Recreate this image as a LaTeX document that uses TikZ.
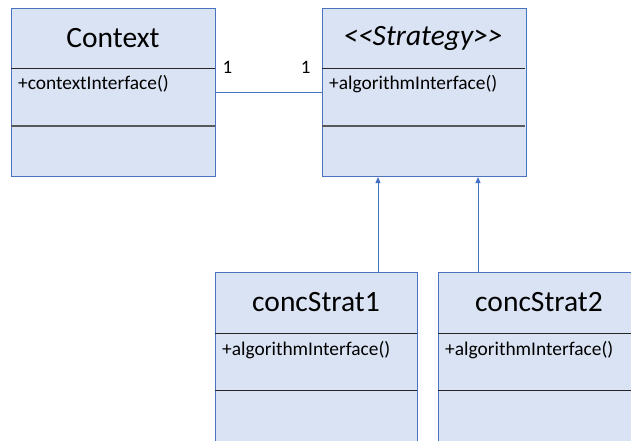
\documentclass[tikz,border=0pt]{standalone}
\usepackage{fontspec}
\setmainfont{Carlito}
\usetikzlibrary{arrows.meta, positioning}

\definecolor{boxfill}{HTML}{DAE3F3}
\definecolor{boxline}{HTML}{4A72BF}
\definecolor{linkblue}{HTML}{4472C4}

\tikzset{
  classbox/.style={draw=boxline, fill=boxfill, line width=1pt, rectangle,
    anchor=north west, minimum width=204pt, minimum height=168pt, inner sep=0pt},
  classname/.style={font=\fontsize{29.5}{31}\selectfont, inner sep=0pt},
  member/.style={font=\fontsize{19.4}{21}\selectfont, anchor=west, inner sep=0pt},
  divider/.style={draw=black!85, line width=1pt},
  link/.style={draw=linkblue, line width=1pt},
  realize/.style={draw=linkblue, line width=1pt, -{Triangle[width=5pt,length=6pt]}},
}

\begin{document}
\begin{tikzpicture}[x=1pt, y=-1pt]
      \useasboundingbox (0,0) rectangle (631,440);
      \clip (0,0) rectangle (631,440);
      % Box 1: Context
      \node[classbox] (context) at (11,8) {};
      \node[classname] (contextname) at (113,38) {Context};
      \draw[divider] (11,68) -- (215,68);
      \draw[divider, draw=black!65, line width=1.5pt] (11,126) -- (215,126);
      \node[member] (contextop) at (18,84) {+contextInterface()};
      % Box 2: Strategy
      \node[classbox] (strategy) at (322,8) {};
      \node[classname] (strategyname) at (423,38) {\itshape {<}{<}Strategy{>}{>}};
      \draw[divider] (322,68) -- (525,68);
      \draw[divider, draw=black!65, line width=1.5pt] (322,126) -- (525,126);
      \node[member] (strategyop) at (329,84) {+algorithmInterface()};
      % Box 3: concStrat1
      \node[classbox, minimum width=202pt, minimum height=190pt] (concone) at (215,272) {};
      \node[classname] (conconename) at (316,302) {concStrat1};
      \draw[divider] (215,333) -- (417,333);
      \draw[divider] (215,390) -- (417,390);
      \node[member] (conconeop) at (222,350) {+algorithmInterface()};
      % Box 4: concStrat2
      \node[classbox, minimum width=202pt, minimum height=190pt] (conctwo) at (438,272) {};
      \node[classname] (conctwoname) at (539,302) {concStrat2};
      \draw[divider] (438,333) -- (640,333);
      \draw[divider] (438,390) -- (640,390);
      \node[member] (conctwoop) at (445,350) {+algorithmInterface()};
      % association with multiplicities
      \draw[link] (context) -- (strategy)
        node[at start, anchor=base west, xshift=6pt, yshift=19pt, font=\fontsize{19}{21}\selectfont, inner sep=0pt] {1}
        node[at end, anchor=base east, xshift=-11pt, yshift=19pt, font=\fontsize{19}{21}\selectfont, inner sep=0pt] {1};
      % realizations
      \draw[realize] (concone.north -| 378,0) -- (strategy.south -| 378,0);
      \draw[realize] (conctwo.north -| 478,0) -- (strategy.south -| 478,0);
    \end{tikzpicture}
\end{document}
